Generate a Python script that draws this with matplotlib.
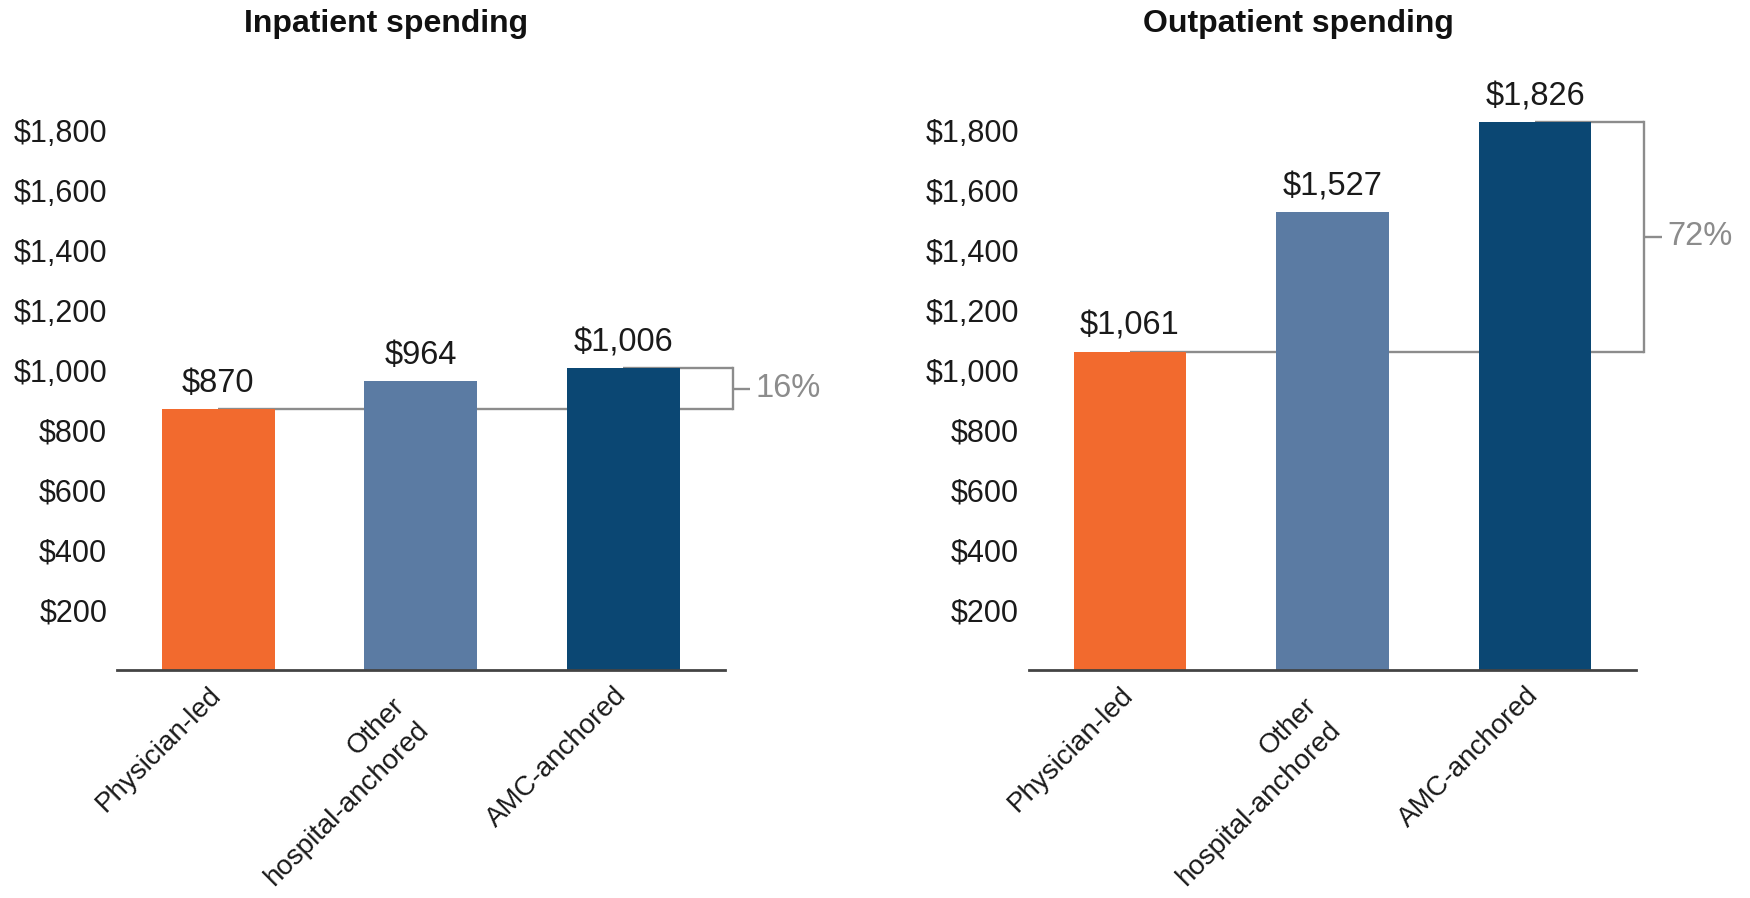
import matplotlib
matplotlib.use("Agg")
import matplotlib.pyplot as plt
from matplotlib.transforms import ScaledTranslation

plt.rcParams["font.family"] = ["Liberation Sans", "DejaVu Sans"]

# Data
categories = ["Physician-led", "Other\nhospital-anchored", "AMC-anchored"]
inpatient = [870, 964, 1006]
outpatient = [1061, 1527, 1826]
inpatient_pct = "16%"
outpatient_pct = "72%"
panel_titles = ["Inpatient spending", "Outpatient spending"]
yticks = [200, 400, 600, 800, 1000, 1200, 1400, 1600, 1800]

colors = ["#F26A2E", "#5B7BA3", "#0B4773"]
bracket_color = "#8C8C8C"
text_color = "#1A1A1A"

W, H = 1750, 898
fig = plt.figure(figsize=(W / 100, H / 100), dpi=100)

ax_w = 607.5 / W
ax_b = (H - 670) / H
ax_h = 600 / H
axes = [
    fig.add_axes([117 / W, ax_b, ax_w, ax_h]),
    fig.add_axes([1028.75 / W, ax_b, ax_w, ax_h]),
]

title_x = [386.5 / W, 1298.5 / W]


def px(dx, dy):
    return ScaledTranslation(dx / 100, dy / 100, fig.dpi_scale_trans)


for ax, vals, pct, title, tx in zip(axes, [inpatient, outpatient],
                                    [inpatient_pct, outpatient_pct],
                                    panel_titles, title_x):
    x = list(range(len(vals)))
    ax.set_xlim(-0.5, 2.5)
    ax.set_ylim(0, 2000)

    # reference line from the lowest bar and bracket showing the gap
    base, top = vals[0], vals[-1]
    xb = 2.54
    lw = 1.7
    ax.plot([0, xb], [base, base], color=bracket_color, lw=lw, zorder=1,
            clip_on=False, solid_capstyle="butt")
    ax.plot([2, xb], [top, top], color=bracket_color, lw=lw, zorder=1,
            clip_on=False, solid_capstyle="butt")
    ax.plot([xb, xb], [base, top], color=bracket_color, lw=lw, zorder=1,
            clip_on=False, solid_capstyle="projecting")
    mid = (base + top) / 2
    ax.plot([xb, 2.625], [mid, mid], color=bracket_color, lw=lw, zorder=1,
            clip_on=False, solid_capstyle="butt")
    ax.text(2.655, mid, pct, color=bracket_color, fontsize=23.5,
            ha="left", va="center", clip_on=False)

    ax.bar(x, vals, width=0.558, color=colors, zorder=2)

    for xi, v in zip(x, vals):
        ax.annotate(f"${v:,}", (xi, v), xytext=(0, 7), textcoords="offset points",
                    ha="center", va="bottom", fontsize=23.5, color=text_color)

    # spines and ticks
    for s in ["top", "right", "left"]:
        ax.spines[s].set_visible(False)
    ax.spines["bottom"].set_color("#444444")
    ax.spines["bottom"].set_linewidth(2.0)
    ax.spines["bottom"].set_zorder(3)
    ax.set_yticks(yticks)
    ax.set_yticklabels([f"${t:,}" for t in yticks])
    ax.tick_params(axis="y", length=0, pad=7, labelsize=22, labelcolor=text_color)
    ax.set_xticks([])

    # rotated category labels
    for xi, lab in zip(x, categories):
        if "\n" in lab:
            t = ax.get_xaxis_transform() + px(-29, -23)
        else:
            t = ax.get_xaxis_transform() + px(-10, -12)
        ax.text(xi, 0, lab, transform=t, rotation=45, rotation_mode="anchor",
                ha="right", va="top", multialignment="right", fontsize=20,
                color=text_color, linespacing=1.4)

    fig.text(tx, 1 - 24 / H, title, ha="center", va="center",
             fontsize=23, fontweight="bold", color="#111111")

fig.savefig("out.png", dpi=100)
